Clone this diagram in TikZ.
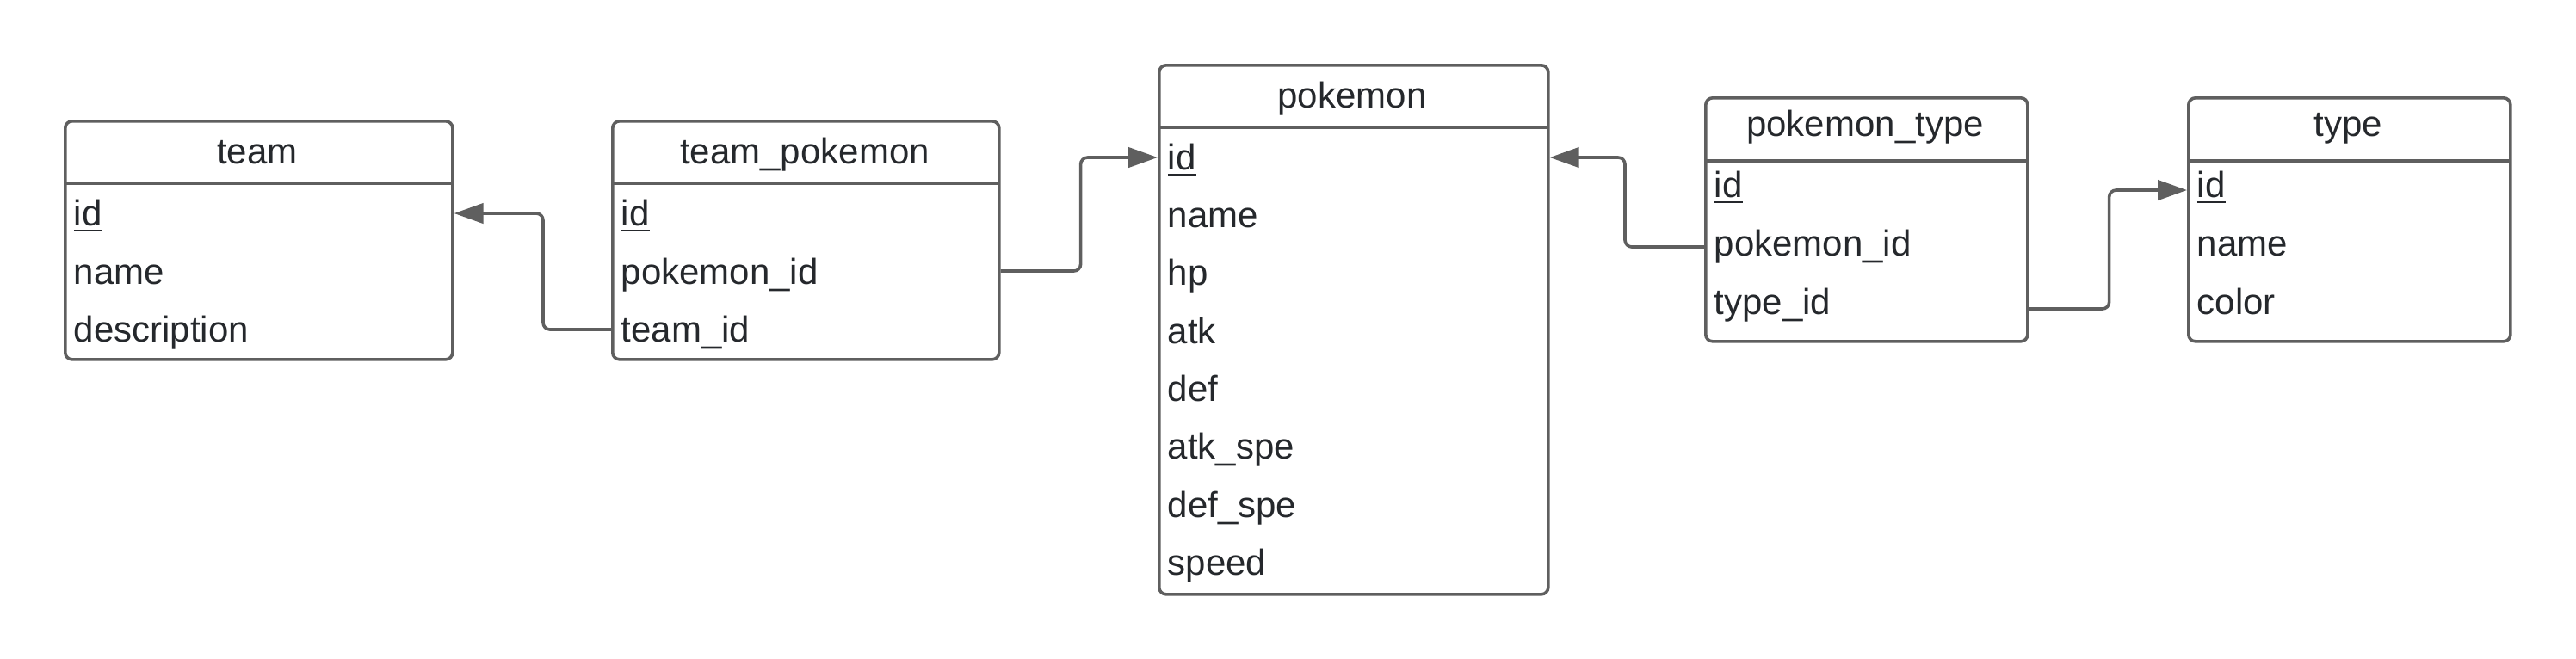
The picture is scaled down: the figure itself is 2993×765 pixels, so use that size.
\documentclass[tikz,border=0pt]{standalone}
\usepackage{fontspec}
\setmainfont{Liberation Sans}
\usetikzlibrary{arrows.meta,calc}
\definecolor{edgegray}{HTML}{5F5F5F}
\definecolor{inkc}{HTML}{25282C}
\newcommand\erfont{\fontsize{10.5pt}{12pt}\selectfont}
\begin{document}
\begin{tikzpicture}[x=0.25pt,y=-0.25pt,
  tbox/.style={draw=edgegray,line width=0.9pt,rounded corners=2pt,anchor=north west,inner sep=0pt},
  ttl/.style={anchor=base,inner sep=0pt,text=inkc,font=\erfont},
  fld/.style={anchor=base west,inner sep=0pt,text=inkc,font=\erfont,text height=8pt,text depth=2pt},
  hline/.style={draw=edgegray,line width=0.9pt},
  link/.style={draw=edgegray,line width=0.9pt,rounded corners=2pt,-{Triangle[length=8.5pt,width=5.8pt]}}]
\useasboundingbox (0,0) rectangle (2993,765);

% team
\node[tbox,minimum width=112.5pt,minimum height=69.25pt] (team) at (74,139) {};
\draw[hline] (74,213) -- (524,213);
\node[ttl] (team-t) at (299,190) {team};
\node[fld] (team-id) at (85,262) {\underline{id}};
\node[fld] (team-name) at (85,330) {name};
\node[fld] (team-desc) at (85,397) {description};

% team_pokemon
\node[tbox,minimum width=112.25pt,minimum height=69.25pt] (tp) at (710,139) {};
\draw[hline] (710,213) -- (1159,213);
\node[ttl] (tp-t) at (935,190) {team\_pokemon};
\node[fld] (tp-id) at (721,262) {\underline{id}};
\node[fld] (tp-pokid) at (721,330) {pokemon\_id};
\node[fld] (tp-teamid) at (721,397) {team\_id};

% pokemon
\node[tbox,minimum width=113pt,minimum height=153.75pt] (pk) at (1345,74) {};
\draw[hline] (1345,148) -- (1797,148);
\node[ttl] (pk-t) at (1571,125) {pokemon};
\node[fld] (pk-id) at (1356,197) {\underline{id}};
\node[fld] (pk-name) at (1356,264) {name};
\node[fld] (pk-hp) at (1356,331) {hp};
\node[fld] (pk-atk) at (1356,399) {atk};
\node[fld] (pk-def) at (1356,466) {def};
\node[fld] (pk-atkspe) at (1356,533) {atk\_spe};
\node[fld] (pk-defspe) at (1356,601) {def\_spe};
\node[fld] (pk-speed) at (1356,668) {speed};

% pokemon_type
\node[tbox,minimum width=93.5pt,minimum height=70.75pt] (pt) at (1980,112) {};
\draw[hline] (1980,187) -- (2354,187);
\node[ttl] (pt-t) at (2167,158) {pokemon\_type};
\node[fld] (pt-id) at (1991,229) {\underline{id}};
\node[fld] (pt-pokid) at (1991,297) {pokemon\_id};
\node[fld] (pt-typeid) at (1991,365) {type\_id};

% type
\node[tbox,minimum width=93.5pt,minimum height=70.75pt] (ty) at (2541,112) {};
\draw[hline] (2541,187) -- (2915,187);
\node[ttl] (ty-t) at (2728,158) {type};
\node[fld] (ty-id) at (2552,229) {\underline{id}};
\node[fld] (ty-name) at (2552,297) {name};
\node[fld] (ty-color) at (2552,365) {color};

% connectors
\draw[link] ($(tp-teamid -| tp.west)+(0,-2)$) -- ++(-79,0) |- ($(team-id -| team.east)+(0,-2)$);
\draw[link] ($(tp-pokid -| tp.east)+(0,-3)$) -- ++(93,0) |- ($(pk-id -| pk.west)+(0,-2)$);
\draw[link] ($(pt-pokid -| pt.west)+(0,2)$) -- ++(-92,0) |- ($(pk-id -| pk.east)+(0,-2)$);
\draw[link] ($(pt-typeid -| pt.east)+(0,6)$) -- ++(93,0) |- ($(ty-id -| ty.west)+(0,4)$);
\end{tikzpicture}
\end{document}
